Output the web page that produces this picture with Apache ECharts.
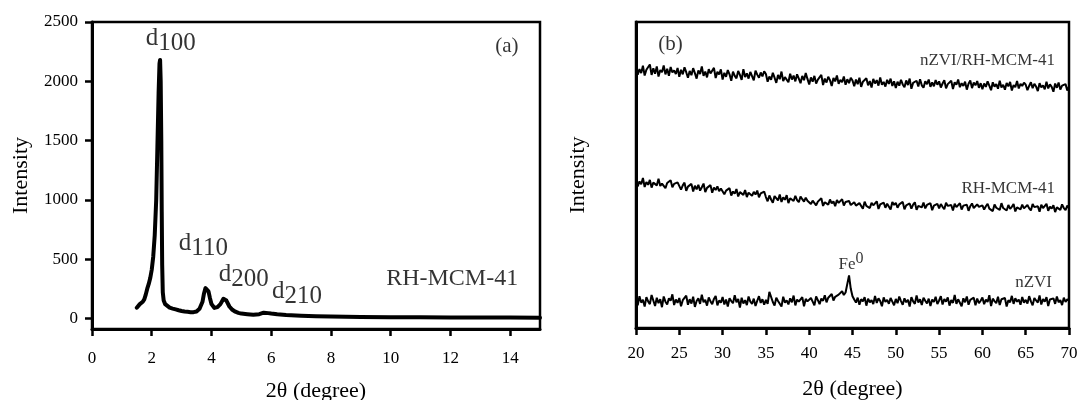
<!DOCTYPE html>
<html>
<head>
<meta charset="utf-8">
<script src="https://cdn.jsdelivr.net/npm/echarts@6/dist/echarts.min.js"></script>
<style>
html,body{margin:0;padding:0;background:#fff;}
#c{width:1078px;height:400px;}
</style>
</head>
<body>
<div id="c"></div>
<script>
// ---- Panel (a): low-angle XRD of RH-MCM-41 ----
const xrdTheta = [1.50,1.55,1.60,1.65,1.70,1.75,1.80,1.85,1.90,1.95,2.00,2.05,2.10,2.15,2.19,2.23,2.26,2.28,2.30,2.32,2.335,2.35,2.37,2.40,2.45,2.50,2.60,2.70,2.80,2.90,3.00,3.10,3.20,3.30,3.40,3.50,3.60,3.70,3.75,3.80,3.85,3.90,3.95,4.00,4.10,4.20,4.30,4.40,4.45,4.50,4.60,4.70,4.80,4.90,5.00,5.20,5.40,5.60,5.75,5.90,6.00,6.20,6.50,7.00,7.50,8.00,9.00,10.0,11.0,12.0,13.0,14.0,15.0];
const xrdIntensity = [90,100,120,130,140,160,200,250,290,340,410,520,700,1000,1450,1900,2150,2180,2000,1500,900,450,220,150,120,105,90,82,75,68,62,58,55,52,52,58,80,140,210,255,262,228,170,120,88,95,120,165,172,150,100,72,56,46,40,35,31,35,48,44,40,34,28,22,18,15,12,10,9,8,7,6,5];
const xTicksA = [0,2,4,6,8,10,12,14];
const yTicksA = [0,500,1000,1500,2000,2500];

// ---- Panel (b): wide-angle XRD (arbitrary intensity units), 2θ = 20..70 step 0.2 ----
const thetaStartB = 20, thetaStepB = 0.2;
const nzviRhMcm = [
852,828,846,833,857,825,844,838,861,827,849,831,855,822,843,836,858,829,847,824,853,835,842,830,850,
821,844,829,852,836,818,840,826,849,833,815,842,830,855,824,838,819,846,832,827,850,817,837,829,845,
812,834,821,843,829,808,838,824,816,840,827,811,846,820,832,815,837,823,809,841,828,818,835,822,839,
830,805,822,811,834,818,801,827,813,838,807,820,816,803,831,812,825,806,829,815,800,824,810,833,814,
796,819,805,824,799,812,808,827,794,815,802,821,810,791,817,806,825,798,811,803,822,795,813,800,818,
809,790,812,797,818,788,805,801,816,793,807,786,814,799,810,792,819,795,804,789,811,798,815,791,806,
784,805,792,811,796,787,809,794,815,782,801,798,808,789,813,793,785,806,797,812,788,803,790,810,795,
806,786,799,810,783,797,792,808,781,803,795,812,787,800,791,805,779,798,809,784,802,793,807,785,800,
780,799,788,806,792,777,803,789,797,782,808,786,795,779,801,790,804,776,794,787,807,783,798,791,802,
795,777,791,803,784,798,789,774,800,786,793,780,805,783,796,788,772,799,785,802,779,792,787,797,776,
790];
const rhMcm = [
486,463,479,470,490,461,477,468,484,459,475,481,466,488,464,472,478,457,474,469,483,460,471,465,476,
470,452,466,475,448,462,457,471,446,465,453,468,449,460,472,444,458,455,467,442,459,451,463,447,456,
452,437,449,443,457,433,446,439,454,430,444,448,435,451,428,442,447,432,445,436,449,427,440,434,446,
428,414,433,420,409,431,425,417,436,412,427,419,434,408,424,429,415,432,418,411,430,421,413,426,416,
419,405,416,422,401,413,408,424,399,411,417,403,420,407,414,398,418,409,404,421,400,412,406,415,402,
397,411,400,394,408,403,390,413,399,405,392,409,401,396,414,389,404,398,410,393,406,400,387,412,402,
409,393,404,398,412,388,401,395,407,390,403,411,386,399,405,394,410,391,402,397,408,385,400,396,406,
391,405,396,388,409,399,393,402,384,406,395,390,408,387,400,394,403,383,398,407,392,389,404,396,401,
401,387,398,406,390,395,382,404,393,399,386,408,392,397,384,402,389,396,405,381,394,400,388,403,391,
388,402,391,384,405,395,389,398,380,403,392,387,406,383,397,390,401,379,394,399,386,404,392,385,400,
391];
const nzvi = [
96,74,104,83,92,70,101,87,78,108,90,72,99,81,94,68,103,86,77,97,89,110,75,93,82,
98,71,91,85,106,76,94,80,102,69,88,97,79,109,84,92,73,100,87,78,95,105,74,90,83,
101,77,93,70,97,88,81,107,84,95,67,99,80,91,75,103,86,79,96,72,89,104,82,94,76,
92,79,118,112,85,73,99,88,94,70,102,83,90,77,97,84,106,74,93,86,80,101,71,95,87,
81,98,86,74,103,91,78,96,89,107,84,99,93,111,90,102,97,109,112,120,108,116,112,172,128,
104,93,83,99,76,94,87,101,73,96,84,91,78,105,82,97,88,71,100,85,92,79,98,86,74,
95,81,103,88,76,97,84,92,70,101,87,79,106,83,94,75,99,89,80,96,72,93,85,102,78,
90,104,77,95,86,100,73,91,82,108,79,94,88,71,97,84,103,76,92,87,99,74,96,81,89,
100,78,93,85,107,72,96,88,81,102,75,94,89,98,70,91,84,105,79,97,86,93,76,101,83,
92,80,104,87,74,98,90,83,106,77,95,86,101,72,93,88,97,79,103,84,91,75,99,85,94,
89];

const FONT = '"Liberation Serif", "DejaVu Serif", serif';
const pairsA = xrdTheta.map((t, i) => [t, xrdIntensity[i]]);
const toPairsB = arr => arr.map((v, i) => [thetaStartB + i * thetaStepB, v]);

const subRich = {
  d: {fontSize: 25, fontFamily: FONT, color: '#000', lineHeight: 25, verticalAlign: 'top'},
  s: {fontSize: 25, fontFamily: FONT, color: '#000', lineHeight: 30, verticalAlign: 'bottom'}
};
const supRich = {
  b: {fontSize: 17, fontFamily: FONT, color: '#000', lineHeight: 22, verticalAlign: 'bottom'},
  p: {fontSize: 16, fontFamily: FONT, color: '#000', lineHeight: 17, verticalAlign: 'top'}
};
function ann(x, y, formatter, opts) {
  return {value: [x, y], label: Object.assign({show: true, position: 'inside', formatter: formatter,
    color: '#000', fontFamily: FONT}, opts)};
}

const axisLineStyle = {color: '#000', width: 3};
const tickFont = {fontSize: 17, color: '#000', fontFamily: FONT};
const nameFont = {fontSize: 22, color: '#000', fontFamily: FONT};
const option = {
  backgroundColor: '#fff',
  animation: false,
  grid: [
    {left: 92, top: 22, width: 448, height: 307, show: true, borderColor: '#000', borderWidth: 2.5,
     backgroundColor: 'transparent', outerBoundsMode: 'none', containLabel: false},
    {left: 636, top: 22, width: 433, height: 306, show: true, borderColor: '#000', borderWidth: 2.5,
     backgroundColor: 'transparent', outerBoundsMode: 'none', containLabel: false}
  ],
  xAxis: [
    {type: 'value', gridIndex: 0, min: 0, max: 15,
     axisLine: {onZero: false, lineStyle: axisLineStyle},
     axisTick: {customValues: xTicksA, length: 7, lineStyle: {color: '#000', width: 2.5}},
     axisLabel: Object.assign({customValues: xTicksA, margin: 21, formatter: v => String(v)}, tickFont),
     splitLine: {show: false},
     name: '2θ (degree)', nameLocation: 'middle', nameGap: 51, nameTextStyle: nameFont},
    {type: 'value', gridIndex: 1, min: 20, max: 70, interval: 5,
     axisLine: {onZero: false, lineStyle: axisLineStyle},
     axisTick: {length: 7, lineStyle: {color: '#000', width: 2.5}},
     axisLabel: Object.assign({margin: 17, formatter: v => String(v)}, tickFont),
     splitLine: {show: false},
     name: '2θ (degree)', nameLocation: 'middle', nameGap: 50, nameTextStyle: nameFont}
  ],
  yAxis: [
    {type: 'value', gridIndex: 0, min: -90, max: 2500,
     axisLine: {show: true, onZero: false, lineStyle: axisLineStyle},
     axisTick: {show: true, customValues: yTicksA, length: 7, lineStyle: {color: '#000', width: 2.5}},
     axisLabel: Object.assign({customValues: yTicksA, margin: 14, formatter: v => String(v)}, tickFont),
     splitLine: {show: false},
     name: 'Intensity', nameLocation: 'middle', nameGap: 60, nameRotate: 90, nameTextStyle: nameFont},
    {type: 'value', gridIndex: 1, min: 0, max: 1000,
     axisLine: {show: true, onZero: false, lineStyle: axisLineStyle},
     axisTick: {show: false}, axisLabel: {show: false},
     splitLine: {show: false},
     name: 'Intensity', nameLocation: 'middle', nameGap: 47, nameRotate: 90, nameTextStyle: nameFont}
  ],
  series: [
    {type: 'line', xAxisIndex: 0, yAxisIndex: 0, data: pairsA, showSymbol: false, silent: true,
     lineStyle: {color: '#000', width: 4, join: 'round', cap: 'round'}},
    {type: 'line', xAxisIndex: 1, yAxisIndex: 1, data: toPairsB(nzviRhMcm), showSymbol: false, silent: true,
     lineStyle: {color: '#000', width: 2}},
    {type: 'line', xAxisIndex: 1, yAxisIndex: 1, data: toPairsB(rhMcm), showSymbol: false, silent: true,
     lineStyle: {color: '#000', width: 2}},
    {type: 'line', xAxisIndex: 1, yAxisIndex: 1, data: toPairsB(nzvi), showSymbol: false, silent: true,
     lineStyle: {color: '#000', width: 2}},
    {type: 'scatter', xAxisIndex: 0, yAxisIndex: 0, symbolSize: 0, silent: true,
     data: [
       ann(2.64, 2340, '{d|d}{s|100}', {rich: subRich}),
       ann(3.73, 614, '{d|d}{s|110}', {rich: subRich}),
       ann(5.08, 353, '{d|d}{s|200}', {rich: subRich}),
       ann(6.86, 205, '{d|d}{s|210}', {rich: subRich}),
       ann(12.06, 336, 'RH-MCM-41', {fontSize: 24}),
       ann(13.89, 2293, '(a)', {fontSize: 21})
     ]},
    {type: 'scatter', xAxisIndex: 1, yAxisIndex: 1, symbolSize: 0, silent: true,
     data: [
       ann(23.98, 925, '(b)', {fontSize: 21}),
       ann(68.38, 873, 'nZVI/RH-MCM-41', {fontSize: 17, align: 'right'}),
       ann(68.38, 456, 'RH-MCM-41', {fontSize: 17, align: 'right'}),
       ann(68.04, 150, 'nZVI', {fontSize: 17, align: 'right'}),
       ann(44.83, 217, '{b|Fe}{p|0}', {rich: supRich})
     ]}
  ]
};
const chart = echarts.init(document.getElementById('c'), null, {renderer: 'canvas'});
chart.setOption(option);
</script>
</body>
</html>
